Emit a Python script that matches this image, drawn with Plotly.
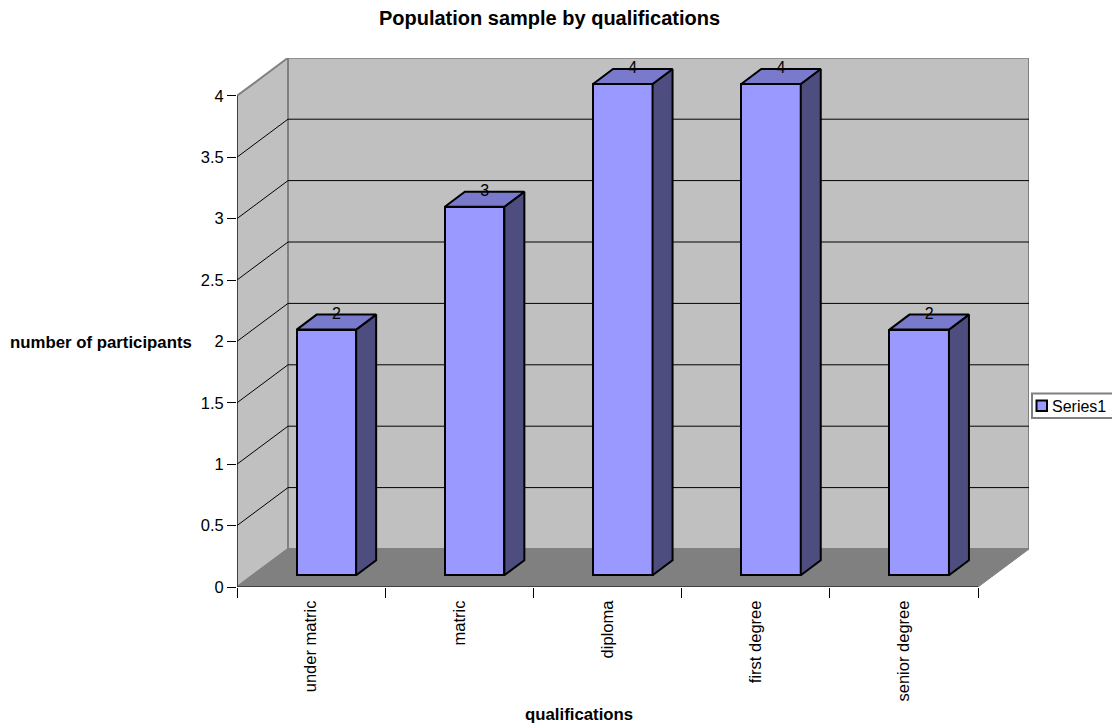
import plotly.graph_objects as go

categories = ["under matric", "matric", "diploma", "first degree", "senior degree"]
values = [2, 3, 4, 4, 2]
y_ticks = [0, 0.5, 1, 1.5, 2, 2.5, 3, 3.5, 4]
y_tick_labels = ["0", "0.5", "1", "1.5", "2", "2.5", "3", "3.5", "4"]
series_name = "Series1"
title_text = "Population sample by qualifications"
x_title_text = "qualifications"
y_title_text = "number of participants"

# pseudo-3D projection parameters, in axis units
N = len(categories)
DX, DY = 51 / 148.2, 38 / 122.8      # depth of the chart box
BAR_W = 59.5 / 148.2
BAR_DX, BAR_DY = 20 / 148.2, 15 / 122.8
INSET_X, BASE = 15.3 / 148.2, 11.8 / 122.8
YMAX = max(y_ticks)
X_RANGE = [0, N + DX]
Y_RANGE = [0, 529 / 122.8]

FONT = "Liberation Sans, Arial, sans-serif"
GREY = "#808080"
WALL = "#C0C0C0"
BAR_COLOR = "#9999FF"
L, R, T, B = 237, 83, 58, 136
PW, PH = 1112 - L - R, 723 - T - B


def px(x):
    return (x - L) / PW


def py(y):
    return 1 - (y - T) / PH


fig = go.Figure()


def poly(xs, ys, fill, line, width, **kw):
    fig.add_trace(go.Scatter(x=xs, y=ys, mode="lines", fill="toself", fillcolor=fill,
                             line=dict(color=line, width=width), showlegend=False,
                             hoverinfo="skip", cliponaxis=False, **kw))


# walls
poly([0, DX, DX, 0, 0], [0, DY, YMAX + DY, YMAX, 0], WALL, GREY, 2)
poly([DX, N + DX, N + DX, DX, DX], [DY, DY, YMAX + DY, YMAX + DY, DY], WALL, GREY, 2)

# gridlines
gx, gy = [], []
for v in y_ticks[1:-1]:
    gx += [0, DX, N + DX, None]
    gy += [v, v + DY, v + DY, None]
fig.add_trace(go.Scatter(x=gx, y=gy, mode="lines", line=dict(color="#000000", width=1),
                         showlegend=False, hoverinfo="skip", cliponaxis=False))

# floor
poly([0, N, N + DX, DX, 0], [0, 0, DY, DY, 0], GREY, GREY, 1)

# axis lines
fig.add_trace(go.Scatter(x=[0, 0, N], y=[YMAX, 0, 0], mode="lines",
                         line=dict(color="#000000", width=1),
                         showlegend=False, hoverinfo="skip", cliponaxis=False))

# bars: front faces on the overlaying axes so they sit above the walls
centers = [i + 0.5 + INSET_X for i in range(N)]
fig.add_trace(go.Bar(x=centers, y=values, base=[BASE] * N, width=BAR_W, name=series_name,
                     marker=dict(color=BAR_COLOR, line=dict(color="#000000", width=2)),
                     xaxis="x2", yaxis="y2", hoverinfo="skip", showlegend=False))

# side and top faces
sx, sy, tx, ty = [], [], [], []
for c, v in zip(centers, values):
    l, r = c - BAR_W / 2, c + BAR_W / 2
    t = BASE + v
    sx += [r, r + BAR_DX, r + BAR_DX, r, r, None]
    sy += [BASE, BASE + BAR_DY, t + BAR_DY, t, BASE, None]
    tx += [l, r, r + BAR_DX, l + BAR_DX, l, None]
    ty += [t, t, t + BAR_DY, t + BAR_DY, t, None]
poly(sx, sy, "#4D4D80", "#000000", 2, xaxis="x2", yaxis="y2")
poly(tx, ty, "#7A7ACC", "#000000", 2, xaxis="x2", yaxis="y2")

# data labels
fig.add_trace(go.Scatter(x=[c + BAR_DX / 2 for c in centers],
                         y=[BASE + v + BAR_DY for v in values],
                         mode="text", text=[str(v) for v in values],
                         textposition="middle center",
                         textfont=dict(family=FONT, size=16, color="#000000"),
                         xaxis="x2", yaxis="y2", showlegend=False, hoverinfo="skip",
                         cliponaxis=False))

fig.update_layout(
    width=1112, height=723, autosize=False,
    margin=dict(l=L, r=R, t=T, b=B, pad=0, autoexpand=False),
    paper_bgcolor="#FFFFFF", plot_bgcolor="rgba(0,0,0,0)",
    font=dict(family=FONT, size=16, color="#000000"),
    title=dict(text=f"<b>{title_text}</b>", x=549.5 / 1112, xanchor="center",
               y=1 - 18 / 723, yanchor="middle",
               font=dict(family=FONT, size=20, color="#000000")),
    xaxis=dict(range=X_RANGE, tickmode="array", tickvals=list(range(N + 1)),
               ticktext=[""] * (N + 1), ticks="outside", ticklen=10, tickwidth=1,
               tickcolor="#000000", showgrid=False, zeroline=False, showline=False,
               fixedrange=True),
    yaxis=dict(range=Y_RANGE, tickmode="array", tickvals=y_ticks, ticktext=y_tick_labels,
               ticks="outside", ticklen=9, tickwidth=1, tickcolor="#000000",
               showgrid=False, zeroline=False, showline=False, fixedrange=True,
               tickfont=dict(family=FONT, size=16.5, color="#000000")),
    xaxis2=dict(range=X_RANGE, overlaying="x", anchor="y2", side="bottom",
                tickmode="array", tickvals=[i + 0.5 for i in range(N)], ticktext=categories,
                tickangle=-90, ticks="outside", ticklen=6, tickcolor="rgba(0,0,0,0)",
                showgrid=False, zeroline=False, showline=False, fixedrange=True,
                tickfont=dict(family=FONT, size=16.5, color="#000000")),
    yaxis2=dict(range=Y_RANGE, overlaying="y", visible=False, fixedrange=True),
    shapes=[
        dict(type="rect", xref="paper", yref="paper", x0=px(1032), x1=px(1114), y0=py(393.5), y1=py(418),
             fillcolor="#FFFFFF", line=dict(color=GREY, width=2), layer="above"),
        dict(type="rect", xref="paper", yref="paper", x0=px(1036.5), x1=px(1047), y0=py(400.5), y1=py(411),
             fillcolor=BAR_COLOR, line=dict(color="#000000", width=2), layer="above"),
    ],
    annotations=[
        dict(text=series_name, x=px(1050), y=py(406), xref="paper", yref="paper",
             xanchor="left", yanchor="middle", showarrow=False,
             font=dict(family=FONT, size=16, color="#000000")),
        dict(text=f"<b>{x_title_text}</b>", x=px(579), y=py(714), xref="paper", yref="paper",
             xanchor="center", yanchor="middle", showarrow=False,
             font=dict(family=FONT, size=16.8, color="#000000")),
        dict(text=f"<b>{y_title_text}</b>", x=px(101), y=py(342), xref="paper", yref="paper",
             xanchor="center", yanchor="middle", showarrow=False,
             font=dict(family=FONT, size=16.8, color="#000000")),
    ],
    bargap=0,
    showlegend=False,
)

fig.write_html("out.html", config={"displayModeBar": False},
               post_script="document.body.style.margin='0';")
